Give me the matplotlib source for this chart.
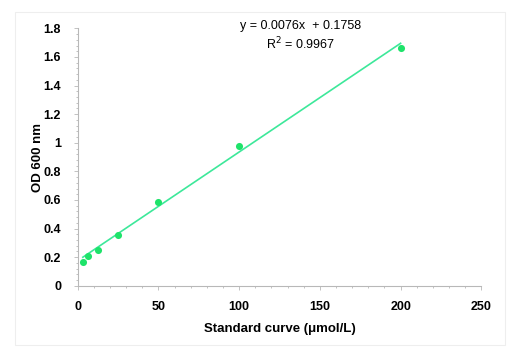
"""
Standard curve: OD 600 nm against concentration, with linear fit.
"""

import numpy as np
import matplotlib.pyplot as plt
from matplotlib.patches import Rectangle
from matplotlib.ticker import MultipleLocator


# data
conc = [3.125, 6.25, 12.5, 25, 50, 100, 200]
od600 = [0.168, 0.208, 0.252, 0.357, 0.586, 0.980, 1.661]
slope = 0.0076
intercept = 0.1758
r_squared = 0.9967

point_color = "#1ee36a"
line_color = "#3de89a"
axis_color = "#b8b8b8"


def main():
    plt.rcParams["font.family"] = ["Liberation Sans", "DejaVu Sans"]

    fig = plt.figure(figsize=(5.22, 3.55), dpi=100)
    ax = fig.add_axes([0.149, 0.195, 0.773, 0.725])

    # light frame round the whole chart
    fig.patches.append(Rectangle((15 / 522, 10 / 355), 490 / 522, 333 / 355,
                                 transform=fig.transFigure, fill=False,
                                 edgecolor="#eeeeee", linewidth=0.8))

    fit_x = np.array([conc[0], conc[-1]])
    ax.plot(fit_x, slope * fit_x + intercept, color=line_color, linewidth=1.2, zorder=2)
    ax.scatter(conc, od600, s=26, color=point_color, zorder=3, linewidths=0)

    ax.set_xlim(0, 250)
    ax.set_ylim(0, 1.8)
    ax.xaxis.set_major_locator(MultipleLocator(50))
    ax.xaxis.set_minor_locator(MultipleLocator(10))
    ax.yaxis.set_minor_locator(MultipleLocator(0.04))
    ax.set_yticks(np.arange(0, 1.81, 0.2))
    ax.set_yticklabels(["0", "0.2", "0.4", "0.6", "0.8", "1", "1.2", "1.4", "1.6", "1.8"])

    for side in ["top", "right"]:
        ax.spines[side].set_visible(False)
    for side in ["left", "bottom"]:
        ax.spines[side].set_color(axis_color)
        ax.spines[side].set_linewidth(0.8)

    ax.tick_params(which="both", direction="out", color=axis_color, width=0.6)
    ax.tick_params(which="major", length=3, labelsize=9)
    ax.tick_params(axis="y", which="major", pad=9)
    ax.tick_params(axis="x", which="major", pad=8)
    ax.tick_params(which="minor", length=1.5)
    for lab in ax.get_xticklabels() + ax.get_yticklabels():
        lab.set_fontweight("bold")

    ax.set_xlabel("Standard curve (μmol/L)", fontsize=9.5, fontweight="bold", va="center")
    ax.set_ylabel("OD 600 nm", fontsize=9.5, fontweight="bold", va="center")
    ax.xaxis.set_label_coords(0.5, -0.168)
    ax.yaxis.set_label_coords(-0.098, 0.5)

    ax.text(138, 1.815, f"y = {slope}x  + {intercept}", ha="center", va="center",
            fontsize=9, clip_on=False)
    ax.text(138, 1.69, f"R$^2$ = {r_squared}", ha="center", va="center",
            fontsize=9, clip_on=False)

    fig.savefig("out.png", dpi=100)


if __name__ == "__main__":
    main()
